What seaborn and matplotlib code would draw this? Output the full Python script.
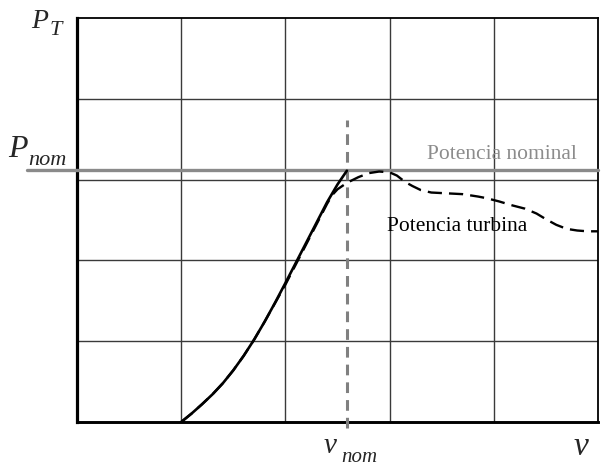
import matplotlib
matplotlib.use("Agg")
import matplotlib.pyplot as plt
import seaborn as sns
import pandas as pd

# Ideal power curve (solid) up to nominal wind speed
v_ideal = [1.0, 1.1, 1.2, 1.3, 1.4, 1.5, 1.6, 1.7, 1.8, 1.9, 2.0, 2.1, 2.2,
           2.3, 2.4, 2.5, 2.59]
p_ideal = [0.0, 0.105, 0.22, 0.342, 0.48, 0.64, 0.82, 1.02, 1.24, 1.475, 1.72,
           1.97, 2.22, 2.47, 2.72, 2.94, 3.11]

# Actual turbine power curve (dashed)
v_turb = [1.0, 1.1, 1.2, 1.3, 1.4, 1.5, 1.6, 1.7, 1.8, 1.9, 2.0, 2.1, 2.2,
          2.3, 2.4, 2.45, 2.5, 2.59, 2.7, 2.8, 2.9, 3.0, 3.07, 3.15, 3.22,
          3.3, 3.4, 3.55, 3.7, 3.85, 3.93, 4.05, 4.18, 4.3, 4.41, 4.5, 4.6,
          4.7, 4.8, 4.9, 5.0]
p_turb = [0.0, 0.105, 0.22, 0.342, 0.48, 0.64, 0.82, 1.02, 1.24, 1.47, 1.70,
          1.95, 2.20, 2.45, 2.70, 2.81, 2.88, 2.96, 3.03, 3.08, 3.10, 3.09,
          3.05, 2.97, 2.92, 2.87, 2.84, 2.83, 2.82, 2.79, 2.77, 2.73, 2.68,
          2.64, 2.58, 2.51, 2.44, 2.39, 2.37, 2.36, 2.36]

p_nom = 3.12
v_nom = 2.59
grid_v = [1, 2, 3, 4]
grid_p = [1, 2, 3, 4]

sns.set_style("white")
plt.rcParams["font.family"] = ["Liberation Serif", "DejaVu Serif"]

W, H = 608, 466
fig = plt.figure(figsize=(W / 100, H / 100), dpi=100)
ax = fig.add_axes([77 / W, 1 - 422 / H, 521 / W, 404 / H])

ax.set_xlim(0, 5)
ax.set_ylim(0, 5)

for gv in grid_v:
    ax.axvline(gv, color="#3a3a3a", lw=1.0, zorder=1)
for gp in grid_p:
    ax.axhline(gp, color="#3a3a3a", lw=1.0, zorder=1)

df_ideal = pd.DataFrame({"v": v_ideal, "P": p_ideal})
df_turb = pd.DataFrame({"v": v_turb, "P": p_turb})

sns.lineplot(data=df_ideal, x="v", y="P", ax=ax, color="black", lw=1.9,
             sort=False, estimator=None, zorder=4)
sns.lineplot(data=df_turb, x="v", y="P", ax=ax, color="black", lw=1.7,
             sort=False, estimator=None, zorder=4)
ax.lines[-1].set_dashes([6, 3])

# Nominal power line, extending left past the axis
ax.plot([-0.48, 5.0], [p_nom, p_nom], color="#8a8a8a", lw=2.4, clip_on=False, zorder=3)
# Nominal wind speed marker
ax.plot([v_nom, v_nom], [-0.07, 3.74], color="#808080", lw=2.2, clip_on=False,
        dashes=[3.5, 2.3], zorder=3)

ax.set_xticks([])
ax.set_yticks([])
ax.set_xlabel("")
ax.set_ylabel("")
for side, lw in [("left", 2.3), ("bottom", 2.1), ("top", 1.3), ("right", 1.3)]:
    ax.spines[side].set_visible(True)
    ax.spines[side].set_color("black")
    ax.spines[side].set_linewidth(lw)


def ftext(x, y, s, size, **kw):
    fig.text(x / W, 1 - y / H, s, fontsize=size, va="baseline", ha="left", **kw)


ftext(31, 28, "P", 20, style="italic")
ftext(50, 35, "T", 16, style="italic")
ftext(8, 157, "P", 23, style="italic")
ftext(28, 165, "nom", 16, style="italic")
ftext(324, 453, "v", 21, style="italic")
ftext(341, 462, "nom", 15, style="italic")
ftext(574, 455, "v", 24, style="italic")

ftext(427, 159, "Potencia nominal", 15.5, color="#8c8c8c")
ftext(387, 231, "Potencia turbina", 15.5, color="black")

fig.savefig("out.png", dpi=100)
